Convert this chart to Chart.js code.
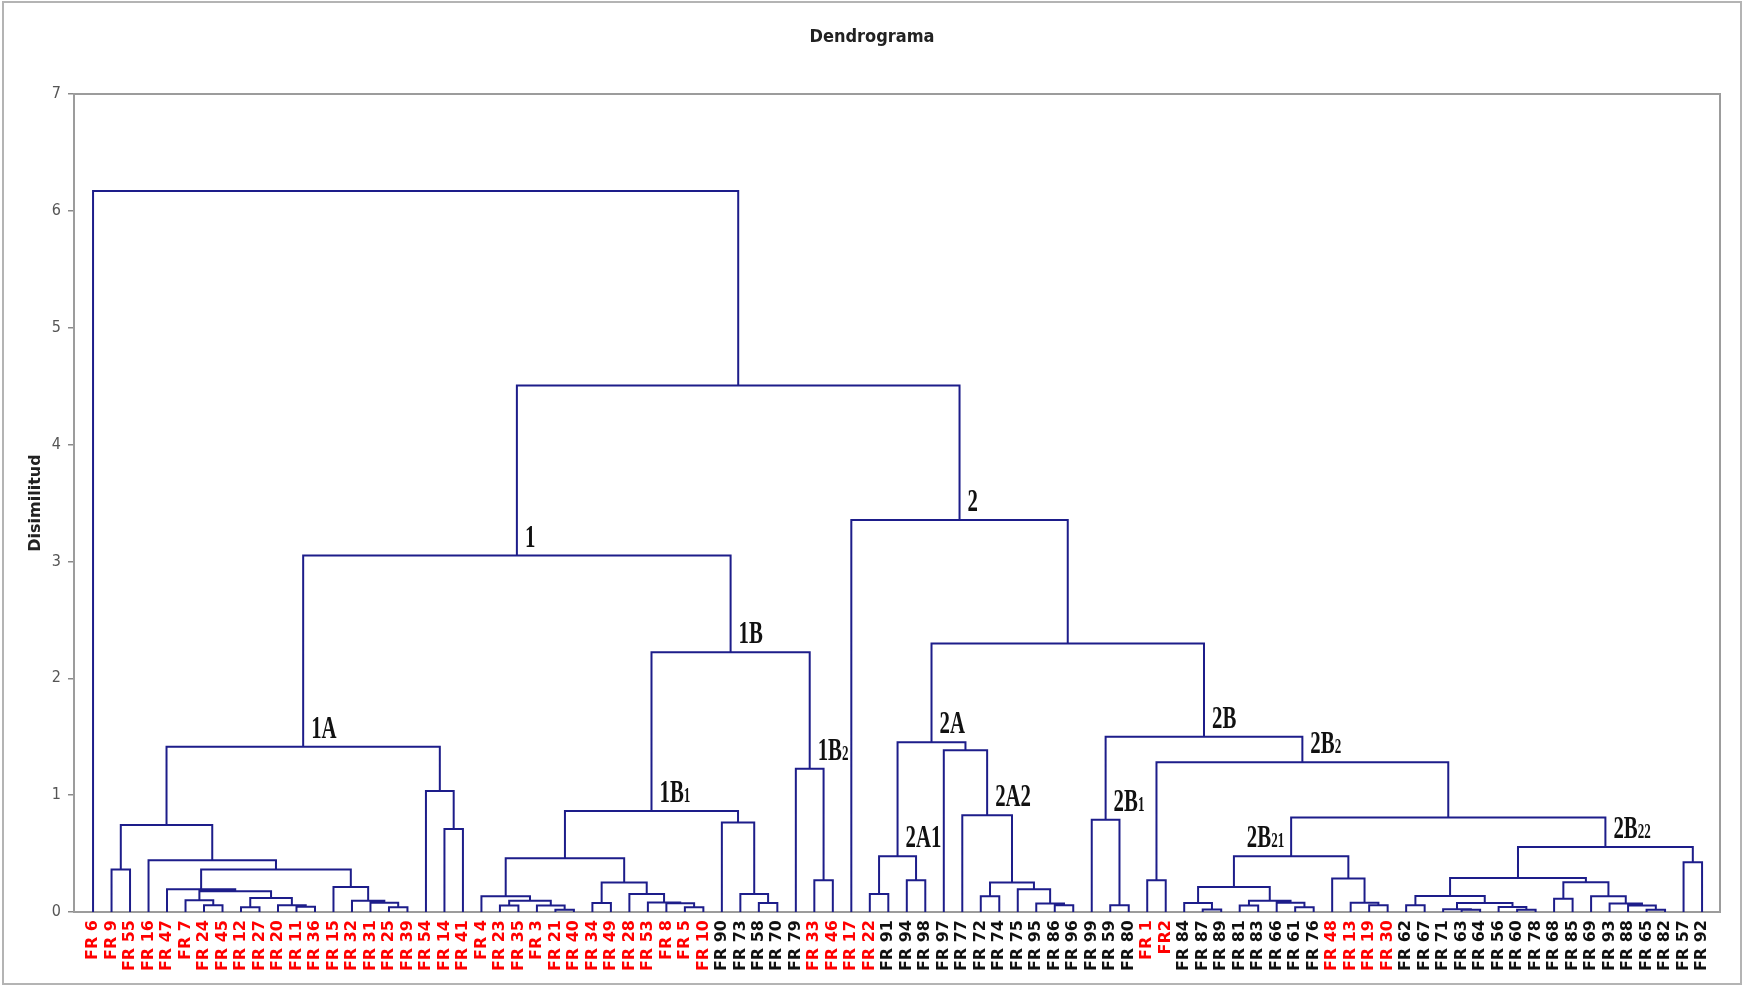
<!DOCTYPE html>
<html>
<head>
<meta charset="utf-8">
<title>Dendrograma</title>
<script src="https://cdn.jsdelivr.net/npm/chart.js@4.4.1/dist/chart.umd.min.js"></script>
<style>
  html, body { margin: 0; padding: 0; background: #fff; }
  #wrap { position: relative; width: 1742px; height: 986px; }
  #wrap canvas { position: absolute; left: 0; top: 0; }
  #frame { position: absolute; left: 2px; top: 1px; width: 1736px; height: 980px;
           border: 2px solid #b4b4b4; pointer-events: none; }
</style>
</head>
<body>
<div id="wrap">
  <canvas id="dendro" width="1742" height="986"></canvas>
  <div id="frame"></div>
</div>
<script>
// Leaves, left to right as they sit under the tree
const LEAVES = [
    'FR 6', 'FR 9', 'FR 55', 'FR 16', 'FR 47', 'FR 7', 'FR 24', 'FR 45', 'FR 12', 'FR 27',
    'FR 20', 'FR 11', 'FR 36', 'FR 15', 'FR 32', 'FR 31', 'FR 25', 'FR 39', 'FR 54', 'FR 14',
    'FR 41', 'FR 4', 'FR 23', 'FR 35', 'FR 3', 'FR 21', 'FR 40', 'FR 34', 'FR 49', 'FR 28',
    'FR 53', 'FR 8', 'FR 5', 'FR 10', 'FR 90', 'FR 73', 'FR 58', 'FR 70', 'FR 79', 'FR 33',
    'FR 46', 'FR 17', 'FR 22', 'FR 91', 'FR 94', 'FR 98', 'FR 97', 'FR 77', 'FR 72', 'FR 74',
    'FR 75', 'FR 95', 'FR 86', 'FR 96', 'FR 99', 'FR 59', 'FR 80', 'FR 1', 'FR2', 'FR 84',
    'FR 87', 'FR 89', 'FR 81', 'FR 83', 'FR 66', 'FR 61', 'FR 76', 'FR 48', 'FR 13', 'FR 19',
    'FR 30', 'FR 62', 'FR 67', 'FR 71', 'FR 63', 'FR 64', 'FR 56', 'FR 60', 'FR 78', 'FR 68',
    'FR 85', 'FR 69', 'FR 93', 'FR 88', 'FR 65', 'FR 82', 'FR 57', 'FR 92'
];

// Leaves whose label is printed in red
const RED_LEAVES = [
    'FR 6', 'FR 9', 'FR 55', 'FR 16', 'FR 47', 'FR 7', 'FR 24', 'FR 45', 'FR 12', 'FR 27',
    'FR 20', 'FR 11', 'FR 36', 'FR 15', 'FR 32', 'FR 31', 'FR 25', 'FR 39', 'FR 54', 'FR 14',
    'FR 41', 'FR 4', 'FR 23', 'FR 35', 'FR 3', 'FR 21', 'FR 40', 'FR 34', 'FR 49', 'FR 28',
    'FR 53', 'FR 8', 'FR 5', 'FR 10', 'FR 33', 'FR 46', 'FR 17', 'FR 22', 'FR 1', 'FR2',
    'FR 48', 'FR 13', 'FR 19', 'FR 30'
];

// Merges, bottom up: [cluster id, left child, right child, dissimilarity]
const MERGES = [
    ['m01', 'FR 9', 'FR 55', 0.363],
    ['m02', 'FR 24', 'FR 45', 0.057],
    ['m03', 'FR 7', 'm02', 0.100],
    ['m04', 'FR 12', 'FR 27', 0.040],
    ['m05', 'FR 11', 'FR 36', 0.044],
    ['m06', 'FR 20', 'm05', 0.058],
    ['m07', 'm04', 'm06', 0.120],
    ['m08', 'm03', 'm07', 0.177],
    ['m09', 'FR 47', 'm08', 0.194],
    ['m10', 'FR 25', 'FR 39', 0.040],
    ['m11', 'FR 31', 'm10', 0.080],
    ['m12', 'FR 32', 'm11', 0.097],
    ['m13', 'FR 15', 'm12', 0.214],
    ['m14', 'm09', 'm13', 0.363],
    ['m15', 'FR 16', 'm14', 0.443],
    ['m16', 'm01', 'm15', 0.745],
    ['m17', 'FR 14', 'FR 41', 0.710],
    ['m18', 'FR 54', 'm17', 1.035],
    ['m19', 'm16', 'm18', 1.415],
    ['m20', 'FR 23', 'FR 35', 0.055],
    ['m21', 'FR 21', 'FR 40', 0.020],
    ['m22', 'FR 3', 'm21', 0.055],
    ['m23', 'm20', 'm22', 0.097],
    ['m24', 'FR 4', 'm23', 0.134],
    ['m25', 'FR 34', 'FR 49', 0.077],
    ['m26', 'FR 5', 'FR 10', 0.040],
    ['m27', 'FR 8', 'm26', 0.075],
    ['m28', 'FR 53', 'm27', 0.082],
    ['m29', 'FR 28', 'm28', 0.154],
    ['m30', 'm25', 'm29', 0.252],
    ['m31', 'm24', 'm30', 0.460],
    ['m32', 'FR 58', 'FR 70', 0.077],
    ['m33', 'FR 73', 'm32', 0.154],
    ['m34', 'FR 90', 'm33', 0.765],
    ['m35', 'm31', 'm34', 0.865],
    ['m36', 'FR 33', 'FR 46', 0.271],
    ['m37', 'FR 79', 'm36', 1.225],
    ['m38', 'm35', 'm37', 2.222],
    ['m39', 'm19', 'm38', 3.050],
    ['m40', 'FR 22', 'FR 91', 0.154],
    ['m41', 'FR 94', 'FR 98', 0.271],
    ['m42', 'm40', 'm41', 0.477],
    ['m43', 'FR 72', 'FR 74', 0.134],
    ['m44', 'FR 86', 'FR 96', 0.057],
    ['m45', 'FR 95', 'm44', 0.072],
    ['m46', 'FR 75', 'm45', 0.194],
    ['m47', 'm43', 'm46', 0.252],
    ['m48', 'FR 77', 'm47', 0.828],
    ['m49', 'FR 97', 'm48', 1.385],
    ['m50', 'm42', 'm49', 1.452],
    ['m51', 'FR 59', 'FR 80', 0.057],
    ['m52', 'FR 99', 'm51', 0.790],
    ['m53', 'FR 1', 'FR2', 0.271],
    ['m54', 'FR 87', 'FR 89', 0.022],
    ['m55', 'FR 84', 'm54', 0.077],
    ['m56', 'FR 81', 'FR 83', 0.055],
    ['m57', 'FR 61', 'FR 76', 0.040],
    ['m58', 'FR 66', 'm57', 0.080],
    ['m59', 'm56', 'm58', 0.097],
    ['m60', 'm55', 'm59', 0.214],
    ['m61', 'FR 19', 'FR 30', 0.057],
    ['m62', 'FR 13', 'm61', 0.080],
    ['m63', 'FR 48', 'm62', 0.286],
    ['m64', 'm60', 'm63', 0.477],
    ['m65', 'FR 62', 'FR 67', 0.057],
    ['m66', 'FR 63', 'FR 64', 0.020],
    ['m67', 'FR 71', 'm66', 0.024],
    ['m68', 'FR 60', 'FR 78', 0.020],
    ['m69', 'FR 56', 'm68', 0.043],
    ['m70', 'm67', 'm69', 0.077],
    ['m71', 'm65', 'm70', 0.137],
    ['m72', 'FR 68', 'FR 85', 0.114],
    ['m73', 'FR 65', 'FR 82', 0.020],
    ['m74', 'FR 88', 'm73', 0.055],
    ['m75', 'FR 93', 'm74', 0.072],
    ['m76', 'FR 69', 'm75', 0.134],
    ['m77', 'm72', 'm76', 0.254],
    ['m78', 'm71', 'm77', 0.291],
    ['m79', 'FR 57', 'FR 92', 0.425],
    ['m80', 'm78', 'm79', 0.557],
    ['m81', 'm64', 'm80', 0.808],
    ['m82', 'm53', 'm81', 1.282],
    ['m83', 'm52', 'm82', 1.499],
    ['m84', 'm50', 'm83', 2.298],
    ['m85', 'FR 17', 'm84', 3.354],
    ['m86', 'm39', 'm85', 4.505],
    ['m87', 'FR 6', 'm86', 6.170]
];

const Y_TICKS = [0, 1, 2, 3, 4, 5, 6, 7];

// Group names written next to a cluster: [cluster id, text, subscript]
const NODE_LABELS = [
    ['m39', '1', ''],
    ['m85', '2', ''],
    ['m19', '1A', ''],
    ['m38', '1B', ''],
    ['m35', '1B', '1'],
    ['m37', '1B', '2'],
    ['m50', '2A', ''],
    ['m42', '2A1', ''],
    ['m48', '2A2', ''],
    ['m83', '2B', ''],
    ['m52', '2B', '1'],
    ['m82', '2B', '2'],
    ['m64', '2B', '21'],
    ['m80', '2B', '22']
];
const LABELS_ON_LEFT = ['m64'];

// Leaf positions are their index; a cluster sits halfway between its children
const nodePos = {};
LEAVES.forEach((name, i) => { nodePos[name] = { x: i, y: 0 }; });

const linkPoints = [];
MERGES.forEach(([id, a, b, h]) => {
    const A = nodePos[a];
    const B = nodePos[b];
    linkPoints.push(
        { x: A.x, y: A.y }, { x: A.x, y: h },
        { x: B.x, y: h }, { x: B.x, y: B.y },
        { x: B.x, y: null }
    );
    nodePos[id] = { x: (A.x + B.x) / 2, y: h };
});

const redSet = new Set(RED_LEAVES);
const LINK_COLOR = '#1d1d8a';
const FRAME_COLOR = '#9c9c9c';

// Grey box round the plot area
const plotFrame = {
    id: 'plotFrame',
    beforeDatasetsDraw(chart) {
        const { ctx, chartArea: a } = chart;
        ctx.save();
        ctx.strokeStyle = FRAME_COLOR;
        ctx.lineWidth = 2;
        ctx.strokeRect(a.left, a.top, a.right - a.left, a.bottom - a.top);
        ctx.restore();
    }
};

// Serif group names (1, 1A, 2B21 ...) beside their cluster
const clusterLabels = {
    id: 'clusterLabels',
    afterDatasetsDraw(chart) {
        const { ctx, scales: { x, y } } = chart;
        const bigFont = 'bold 32px "Liberation Serif", "DejaVu Serif", serif';
        const smallFont = 'bold 20px "Liberation Serif", "DejaVu Serif", serif';
        const squeeze = 0.65;
        NODE_LABELS.forEach(([id, main, sub]) => {
            const p = nodePos[id];
            const px = x.getPixelForValue(p.x);
            const py = y.getPixelForValue(p.y);
            ctx.save();
            ctx.fillStyle = '#111';
            ctx.textBaseline = 'alphabetic';
            ctx.textAlign = 'left';
            ctx.font = bigFont;
            const wMain = ctx.measureText(main).width;
            ctx.font = smallFont;
            const wSub = sub ? ctx.measureText(sub).width : 0;
            const total = (wMain + wSub) * squeeze;
            const startX = LABELS_ON_LEFT.includes(id) ? px - 7 - total : px + 8;
            ctx.translate(startX, py - 9);
            ctx.scale(squeeze, 1);
            ctx.font = bigFont;
            ctx.fillText(main, 0, 0);
            if (sub) {
                ctx.font = smallFont;
                ctx.fillText(sub, wMain, 0);
            }
            ctx.restore();
        });
    }
};

const narrowFamily = '"Liberation Sans Narrow", "DejaVu Sans Condensed", "Liberation Sans", sans-serif';

new Chart(document.getElementById('dendro'), {
    type: 'scatter',
    data: {
        datasets: [{
            data: linkPoints,
            showLine: true,
            spanGaps: false,
            borderColor: LINK_COLOR,
            borderWidth: 2,
            pointRadius: 0,
            pointHoverRadius: 0,
            borderJoinStyle: 'miter'
        }]
    },
    options: {
        responsive: false,
        devicePixelRatio: 1,
        animation: false,
        events: [],
        layout: { padding: { left: 24, right: 22, top: 0, bottom: 0 } },
        plugins: {
            legend: { display: false },
            tooltip: { enabled: false },
            title: {
                display: true,
                text: 'Dendrograma',
                color: '#222',
                font: { family: narrowFamily, size: 18, weight: 'bold', lineHeight: 1.2 },
                padding: { top: 27, bottom: 45.4 }
            }
        },
        scales: {
            x: {
                type: 'linear',
                min: -1.03,
                max: 87.97,
                border: { display: false },
                grid: { display: false, drawTicks: false },
                afterBuildTicks(axis) {
                    axis.ticks = LEAVES.map((_, i) => ({ value: i }));
                },
                afterFit(scale) {
                    scale.height = 74;
                },
                ticks: {
                    autoSkip: false,
                    minRotation: 90,
                    maxRotation: 90,
                    padding: 8,
                    font: { family: '"DejaVu Sans", sans-serif', size: 16, weight: 'bold' },
                    color: (ctx) => redSet.has(LEAVES[ctx.index]) ? '#ff0000' : '#111111',
                    callback: (value) => LEAVES[value]
                }
            },
            y: {
                type: 'linear',
                min: 0,
                max: 7,
                border: { display: false },
                grid: {
                    drawOnChartArea: false,
                    drawTicks: true,
                    tickLength: 6,
                    color: '#8a8a8a',
                    lineWidth: 1.5
                },
                afterBuildTicks(axis) {
                    axis.ticks = Y_TICKS.map(v => ({ value: v }));
                },
                afterFit(scale) {
                    scale.width = 50;
                },
                ticks: {
                    padding: 7,
                    color: '#555',
                    font: { family: narrowFamily, size: 16 }
                },
                title: {
                    display: true,
                    text: 'Disimilitud',
                    color: '#222',
                    padding: { top: 2, bottom: 0 },
                    font: { family: '"DejaVu Sans", sans-serif', size: 16, weight: 'bold', lineHeight: 1.2 }
                }
            }
        }
    },
    plugins: [plotFrame, clusterLabels]
});
</script>
</body>
</html>
